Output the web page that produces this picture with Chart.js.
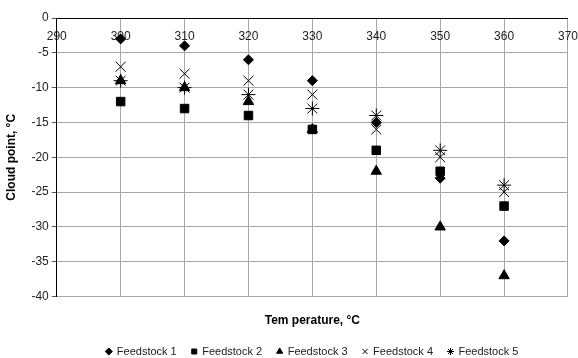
<!DOCTYPE html>
<html>
<head>
<meta charset="utf-8">
<script src="https://cdn.jsdelivr.net/npm/chart.js@4/dist/chart.umd.min.js"></script>
<style>
  html, body { margin: 0; padding: 0; background: #fff; overflow: hidden; }
  #wrap { width: 578px; height: 358px; }
</style>
</head>
<body>
<div id="wrap"><canvas id="chart"></canvas></div>
<script>
// temperatures (x) and cloud points (y)
const temps = [300, 310, 320, 330, 340, 350, 360];
const feedstock1 = [-3, -4, -6, -9, -15, -23, -32];
const feedstock2 = [-12, -13, -14, -16, -19, -22, -27];
const feedstock3 = [-9, -10, -12, -16, -22, -30, -37];
const feedstock4 = [-7, -8, -9, -11, -16, -20, -25];
const feedstock5 = [-9, -10, -11, -13, -14, -19, -24];
const seriesNames = ["Feedstock 1", "Feedstock 2", "Feedstock 3", "Feedstock 4", "Feedstock 5"];
const yTicks = [0, -5, -10, -15, -20, -25, -30, -35, -40];

const FONT = "'Liberation Sans', Arial, sans-serif";

function points(vals) {
  return temps.map((t, i) => ({ x: t, y: vals[i] }));
}

const styles = [
  { pointStyle: "rectRot", radius: 5 },
  { pointStyle: "rect", radius: 6 },
  { pointStyle: "triangle", radius: 6 },
  { pointStyle: "crossRot", radius: 7 },
  { pointStyle: "star", radius: 7 }
];

const datasets = [feedstock1, feedstock2, feedstock3, feedstock4, feedstock5].map((vals, i) => ({
  label: seriesNames[i],
  data: points(vals),
  pointStyle: styles[i].pointStyle,
  pointRadius: styles[i].radius,
  pointHoverRadius: styles[i].radius,
  backgroundColor: "#000",
  borderColor: "#000",
  borderWidth: 1,
  showLine: false
}));

new Chart(document.getElementById("chart"), {
  type: "scatter",
  data: { datasets },
  options: {
    responsive: true,
    maintainAspectRatio: false,
    animation: false,
    layout: { padding: { left: 4, right: 0, top: 18, bottom: -9 } },
    scales: {
      x: {
        type: "linear",
        position: { y: 0 },
        min: 290,
        max: 370,
        ticks: { stepSize: 10, padding: 0, color: "#222", font: { family: FONT, size: 12 } },
        grid: { color: "#a8a8a8", drawTicks: true, tickLength: 11, tickColor: "rgba(0,0,0,0)" },
        border: { color: "#000" }
      },
      y: {
        min: -40,
        max: 0,
        afterBuildTicks: s => { s.ticks = yTicks.map(v => ({ value: v })); },
        ticks: { padding: 3, color: "#222", font: { family: FONT, size: 12 } },
        grid: { color: "#a8a8a8", tickLength: 5, tickColor: "#555" },
        border: { color: "#000" },
        title: {
          display: true,
          text: "Cloud point, °C",
          color: "#000",
          padding: { top: 0, bottom: 10 },
          font: { family: FONT, size: 12, weight: "bold" }
        }
      }
    },
    plugins: {
      title: {
        display: true,
        position: "bottom",
        fullSize: false,
        weight: 500,
        text: "Tem perature, °C",
        color: "#000",
        padding: { top: 17, bottom: 3 },
        font: { family: FONT, size: 12, weight: "bold" }
      },
      legend: {
        position: "bottom",
        fullSize: false,
        labels: {
          usePointStyle: true,
          boxWidth: 5,
          boxHeight: 5,
          padding: 15,
          color: "#222",
          font: { family: FONT, size: 11 }
        }
      },
      tooltip: { enabled: false }
    }
  }
});
</script>
</body>
</html>
